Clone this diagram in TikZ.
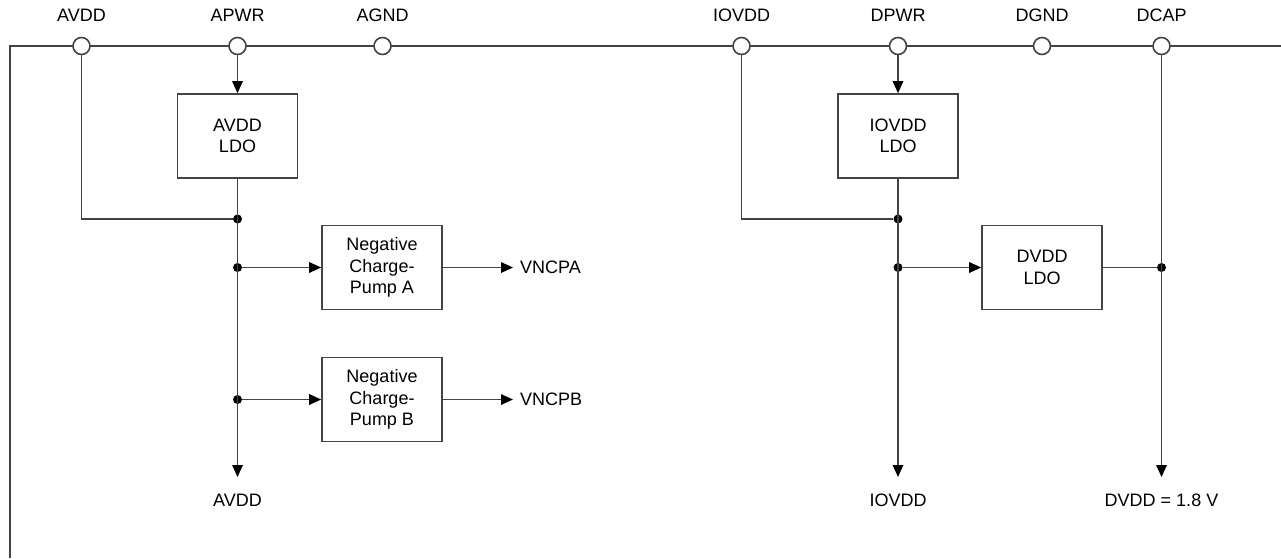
\documentclass[tikz,border=0pt]{standalone}
\usepackage{fontspec}
\setmainfont{Liberation Sans}
\usetikzlibrary{arrows.meta}
\definecolor{wirecol}{HTML}{444444}
\tikzset{
  link/.style={draw=wirecol, line width=1.6pt},
  padc/.style={circle, draw=wirecol, line width=1.6pt, fill=white, minimum size=17pt, inner sep=0pt},
  block/.style={draw=wirecol, line width=1.6pt, align=center, minimum width=120pt, minimum height=84pt, inner sep=0pt, font=\fontsize{18}{21.5}\selectfont},
  jdot/.style={circle, fill=black, minimum size=9pt, inner sep=0pt},
  lbl/.style={inner sep=0pt, font=\fontsize{18}{21.5}\selectfont},
}
\begin{document}
\begin{tikzpicture}[x=1pt, y=-1pt, >={Triangle[length=12pt,width=10.5pt,color=black]}]
\useasboundingbox (0,0) rectangle (1281,558);
% device outline
\coordinate (botleft) at (10,558);
\coordinate (corner) at (10,46);
\coordinate (rightend) at (1281,46);
\draw[link] (botleft) -- (corner) -- (rightend);
% pins
\node[padc] (avddpin) at (81.5,46) {};
\node[padc] (apwrpin) at (237.5,46) {};
\node[padc] (agndpin) at (382.5,46) {};
\node[padc] (iovddpin) at (741.5,46) {};
\node[padc] (dpwrpin) at (898,46) {};
\node[padc] (dgndpin) at (1042,46) {};
\node[padc] (dcappin) at (1161.5,46) {};
\node[lbl] (avddlbl) at (81.5,15) {AVDD};
\node[lbl] (apwrlbl) at (237.5,15) {APWR};
\node[lbl] (agndlbl) at (382.5,15) {AGND};
\node[lbl] (iovddlbl) at (741.5,15) {IOVDD};
\node[lbl] (dpwrlbl) at (898,15) {DPWR};
\node[lbl] (dgndlbl) at (1042,15) {DGND};
\node[lbl] (dcaplbl) at (1161.5,15) {DCAP};
% analog supply
\node[block] (avddldo) at (237.5,136) {AVDD\\LDO};
\node[jdot] (aj1) at (237.5,219) {};
\node[jdot] (aj2) at (237.5,267.5) {};
\node[jdot] (aj3) at (237.5,399.5) {};
\node[block] (ncpa) at (382,267.5) {Negative\\Charge-\\Pump A};
\node[block] (ncpb) at (382,399.5) {Negative\\Charge-\\Pump B};
\node[lbl, anchor=west, inner xsep=7pt] (vncpa) at (513,267.5) {VNCPA};
\node[lbl, anchor=west, inner xsep=7pt] (vncpb) at (513,399.5) {VNCPB};
\coordinate (avddend) at (237.5,477);
\node[lbl] (avddout) at (237.5,500) {AVDD};
\draw[link] (avddpin) |- (aj1);
\draw[link,->] (apwrpin) -- (avddldo);
\draw[link,->] (avddldo) -- (aj1.center) -- (aj2.center) -- (aj3.center) -- (avddend);
\draw[link,->] (aj2) -- (ncpa);
\draw[link,->] (aj3) -- (ncpb);
\draw[link,->] (ncpa) -- (vncpa);
\draw[link,->] (ncpb) -- (vncpb);
% digital supply
\node[block] (iovddldo) at (898,136) {IOVDD\\LDO};
\node[jdot] (dj1) at (898,219) {};
\node[jdot] (dj2) at (898,267.5) {};
\node[block] (dvddldo) at (1042,267.5) {DVDD\\LDO};
\node[jdot] (dj3) at (1161.5,267.5) {};
\coordinate (iovddend) at (898,477);
\coordinate (dvddend) at (1161.5,477);
\node[lbl] (iovddout) at (898,500) {IOVDD};
\node[lbl] (dvddout) at (1161.5,500) {DVDD = 1.8 V};
\draw[link] (iovddpin) |- (dj1);
\draw[link,->] (dpwrpin) -- (iovddldo);
\draw[link,->] (iovddldo) -- (dj1.center) -- (dj2.center) -- (iovddend);
\draw[link,->] (dj2) -- (dvddldo);
\draw[link] (dvddldo) -- (dj3);
\draw[link,->] (dcappin) -- (dj3.center) -- (dvddend);
\end{tikzpicture}
\end{document}
